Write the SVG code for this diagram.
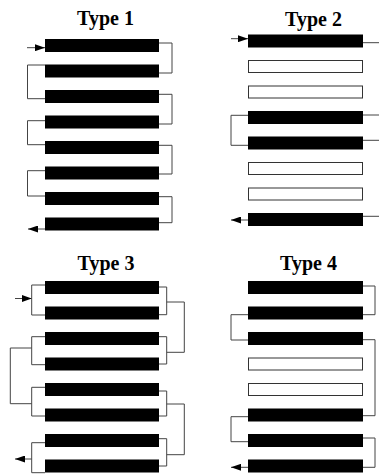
<svg xmlns="http://www.w3.org/2000/svg" width="379" height="474" viewBox="0 0 379 474">
<style>
.t{font-family:"Liberation Serif","Times New Roman",serif;font-weight:bold;font-size:20px;fill:#000;text-anchor:middle}
.f{fill:#000}
.o{fill:#fff;stroke:#333;stroke-width:1}
.c{fill:none;stroke:#444;stroke-width:1}
</style>
<defs>
<marker id="ah" markerUnits="userSpaceOnUse" viewBox="0 0 10 7" refX="10" refY="3.5" markerWidth="10" markerHeight="7" orient="auto">
<path d="M0,0 L10,3.5 L0,7 z" fill="#000"/>
</marker>
</defs>
<rect width="379" height="474" fill="#fff"/>

<g id="type1">
<text class="t" x="105.5" y="25">Type 1</text>
<rect class="f" x="45" y="39" width="114" height="13"/>
<rect class="f" x="45" y="64.5" width="114" height="13"/>
<rect class="f" x="45" y="90" width="114" height="13"/>
<rect class="f" x="45" y="115.5" width="114" height="13"/>
<rect class="f" x="45" y="141" width="114" height="13"/>
<rect class="f" x="45" y="166.5" width="114" height="13"/>
<rect class="f" x="45" y="192" width="114" height="13"/>
<rect class="f" x="45" y="217.5" width="114" height="13"/>
</g>

<g id="type2">
<text class="t" x="313.5" y="25.5">Type 2</text>
<rect class="f" x="248" y="34.5" width="115" height="13"/>
<rect class="o" x="248.5" y="60.5" width="114" height="12"/>
<rect class="o" x="248.5" y="86" width="114" height="12"/>
<rect class="f" x="248" y="111" width="115" height="13"/>
<rect class="f" x="248" y="136.5" width="115" height="13"/>
<rect class="o" x="248.5" y="162.5" width="114" height="12"/>
<rect class="o" x="248.5" y="188" width="114" height="12"/>
<rect class="f" x="248" y="213" width="115" height="13"/>
</g>

<g id="type3">
<text class="t" x="106" y="270">Type 3</text>
<rect class="f" x="45" y="281" width="114" height="13"/>
<rect class="f" x="45" y="306.5" width="114" height="13"/>
<rect class="f" x="45" y="332" width="114" height="13"/>
<rect class="f" x="45" y="357.5" width="114" height="13"/>
<rect class="f" x="45" y="383" width="114" height="13"/>
<rect class="f" x="45" y="408.5" width="114" height="13"/>
<rect class="f" x="45" y="434" width="114" height="13"/>
<rect class="f" x="45" y="459.5" width="114" height="13"/>
</g>

<g id="type4">
<text class="t" x="308.5" y="270">Type 4</text>
<rect class="f" x="248" y="281" width="115" height="13"/>
<rect class="f" x="248" y="306.5" width="115" height="13"/>
<rect class="f" x="248" y="332" width="115" height="13"/>
<rect class="o" x="248.5" y="358" width="114" height="12"/>
<rect class="o" x="248.5" y="383.5" width="114" height="12"/>
<rect class="f" x="248" y="408.5" width="115" height="13"/>
<rect class="f" x="248" y="434" width="115" height="13"/>
<rect class="f" x="248" y="459.5" width="115" height="13"/>
</g>

<g id="connectors">
<!-- Type 1 -->
<path class="c" d="M27,47.7 H45" marker-end="url(#ah)"/>
<path class="c" d="M159,43 H172 V73 H159"/>
<path class="c" d="M45,65 H27.5 V98.7 H45"/>
<path class="c" d="M159,94.3 H172 V124 H159"/>
<path class="c" d="M45,120.7 H27.5 V144.7 H45"/>
<path class="c" d="M159,145.3 H172 V174 H159"/>
<path class="c" d="M45,170.7 H27.5 V196 H45"/>
<path class="c" d="M159,196.7 H172 V222.7 H159"/>
<path class="c" d="M45,229 H28" marker-end="url(#ah)"/>
<!-- Type 2 -->
<path class="c" d="M231,38.7 H248" marker-end="url(#ah)"/>
<path class="c" d="M363,42.7 H379"/>
<path class="c" d="M363,115 H379"/>
<path class="c" d="M363,140.3 H379"/>
<path class="c" d="M363,216.3 H379"/>
<path class="c" d="M248,115.3 H231 V145.3 H248"/>
<path class="c" d="M248,220 H231" marker-end="url(#ah)"/>
<!-- Type 3 -->
<path class="c" d="M15,298.5 H31.7" marker-end="url(#ah)"/>
<path class="c" d="M45,285 H31.7 V315 H45"/>
<path class="c" d="M159,287 H166.7 V314.7 H159"/>
<path class="c" d="M166.7,302 H184.3 V352.3 H166.7"/>
<path class="c" d="M159,336.7 H166.7 V364 H159"/>
<path class="c" d="M45,336.7 H31.7 V364.7 H45"/>
<path class="c" d="M31.7,348 H10.3 V403.7 H31.7"/>
<path class="c" d="M45,387.3 H31.7 V416 H45"/>
<path class="c" d="M159,391 H166.7 V416 H159"/>
<path class="c" d="M166.7,404 H184.3 V454.7 H166.7"/>
<path class="c" d="M159,438.7 H166.7 V466 H159"/>
<path class="c" d="M45,442.7 H31.7 V472.7 H45"/>
<path class="c" d="M31.7,459 H15" marker-end="url(#ah)"/>
<!-- Type 4 -->
<path class="c" d="M363,286 H375 V314.7 H363"/>
<path class="c" d="M248,314.7 H231 V340 H248"/>
<path class="c" d="M363,339.7 H375 V415.7 H363"/>
<path class="c" d="M248,416.7 H231 V441.7 H248"/>
<path class="c" d="M363,438 H375 V467.3 H363"/>
<path class="c" d="M248,467.3 H231" marker-end="url(#ah)"/>
</g>
</svg>
